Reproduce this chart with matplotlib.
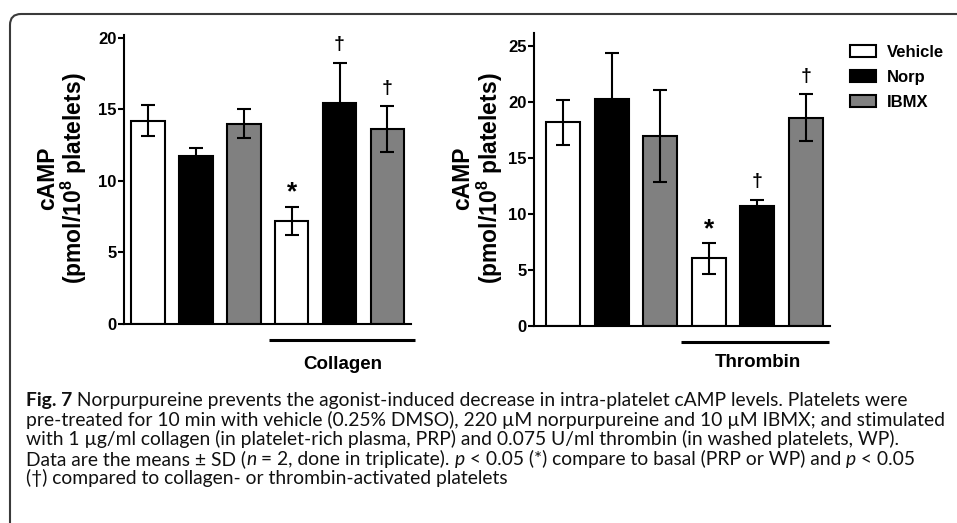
import matplotlib
matplotlib.use("Agg")
import matplotlib.pyplot as plt
import numpy as np
from matplotlib.path import Path
from matplotlib.patches import PathPatch

# ---------------- data ----------------
groups = ["Vehicle", "Norp", "IBMX"]
collagen_means = [14.2, 11.7, 14.0, 7.2, 15.4, 13.6]
collagen_sd = [1.1, 0.6, 1.0, 1.0, 2.85, 1.6]
thrombin_means = [18.15, 20.25, 16.95, 6.0, 10.7, 18.55]
thrombin_sd = [2.0, 4.1, 4.1, 1.35, 0.55, 2.1]
sig_marks = ["", "", "", "*", "\u2020", "\u2020"]
left_yticks = [0, 5, 10, 15, 20]
right_yticks = [0, 5, 10, 15, 20, 25]
agonists = ["Collagen", "Thrombin"]

caption_lines = [
    [("Fig. 7", "bold"), (" Norpurpureine prevents the agonist-induced decrease in intra-platelet cAMP levels. Platelets were", "normal")],
    [("pre-treated for 10 min with vehicle (0.25% DMSO), 220 \u00b5M norpurpureine and 10 \u00b5M IBMX; and stimulated", "normal")],
    [("with 1 \u00b5g/ml collagen (in platelet-rich plasma, PRP) and 0.075 U/ml thrombin (in washed platelets, WP).", "normal")],
    [("Data are the means \u00b1 SD (", "normal"), ("n", "italic"), (" = 2, done in triplicate). ", "normal"), ("p", "italic"),
     (" < 0.05 (*) compare to basal (PRP or WP) and ", "normal"), ("p", "italic"), (" < 0.05", "normal")],
    [("(\u2020) compared to collagen- or thrombin-activated platelets", "normal")],
]

fills = ["white", "black", "#808080"]

plt.rcParams["mathtext.fontset"] = "custom"
plt.rcParams["mathtext.bf"] = "Liberation Sans:bold"
plt.rcParams["mathtext.rm"] = "Liberation Sans:bold"
plt.rcParams["mathtext.it"] = "Liberation Sans:bold"

W, H = 957, 523
fig = plt.figure(figsize=(W / 100, H / 100), dpi=100)
fig.patch.set_facecolor("white")


def fx(px):
    return px / W


def fy(py):
    return 1 - py / H


CH = "Liberation Sans"


def make_axes(left_px, zero_px, ppu, ymax, xmin, spacing, nbars=6):
    width = (nbars - 0.5 - xmin) * spacing
    height = ymax * ppu
    ax = fig.add_axes([fx(left_px), fy(zero_px), width / W, height / H])
    ax.set_xlim(xmin, nbars - 0.5)
    ax.set_ylim(0, ymax)
    return ax


axL = make_axes(124, 324, 14.32, 20.15, -0.5, 47.9)
axR = make_axes(534.3, 325.7, 11.2, 26.1, -0.6, 48.5)


def draw_panel(ax, means, sds, yticks, agonist, line_x, line_y, text_x, text_y):
    x = np.arange(len(means))
    colors = [fills[i % 3] for i in range(len(means))]
    bars = ax.bar(x, means, width=0.7, color=colors, edgecolor="black",
                  linewidth=1.5, zorder=2)
    ax.errorbar(x, means, yerr=sds, fmt="none", ecolor="black",
                elinewidth=1.5, capsize=5, capthick=1.5, zorder=3)
    for xi, m, s, mk in zip(x, means, sds, sig_marks):
        if mk == "*":
            ax.annotate(mk, xy=(xi, m + s), xytext=(0, 10), textcoords="offset points",
                        ha="center", va="center", fontsize=19, fontweight="bold",
                        family=CH, color="black")
        elif mk:
            ax.annotate(mk, xy=(xi, m + s), xytext=(0, 13), textcoords="offset points",
                        ha="center", va="center", fontsize=14, fontweight="bold",
                        family=CH, color="black")
    for side in ["top", "right"]:
        ax.spines[side].set_visible(False)
    for side in ["left", "bottom"]:
        ax.spines[side].set_linewidth(1.5)
    ax.set_xticks([])
    ax.set_yticks(yticks)
    ax.set_yticklabels([str(t) for t in yticks], fontsize=12, fontweight="bold", family=CH)
    ax.tick_params(axis="y", direction="out", length=4, width=1.5, pad=1.5)
    ax.plot(line_x, [line_y, line_y], color="black", lw=2.2, clip_on=False,
            solid_capstyle="butt")
    ax.text(text_x, text_y, agonist, ha="center", va="center",
            fontsize=13.5, fontweight="bold", family=CH)
    return bars


barsL = draw_panel(axL, collagen_means, collagen_sd, left_yticks, agonists[0],
                   [2.53, 5.575], -1.14, 4.07, -2.86)
barsR = draw_panel(axR, thrombin_means, thrombin_sd, right_yticks, agonists[1],
                   [2.42, 5.48], -1.48, 4.0, -3.33)

# y labels
for cx1, cx2, cy in [(47.5, 74, 178), (463, 490, 178)]:
    fig.text(fx(cx1), fy(cy), "cAMP", rotation=90, ha="center", va="center",
             fontsize=16.5, fontweight="bold", family=CH)
    fig.text(fx(cx2), fy(cy), r"(pmol/10$^{\mathbf{8}}$ platelets)", rotation=90,
             ha="center", va="center", fontsize=16.5, fontweight="bold", family=CH)

# legend
leg = axR.legend(barsR[:3], groups, loc="upper left",
                 bbox_to_anchor=(fx(850), fy(45)), bbox_transform=fig.transFigure,
                 frameon=False, borderpad=0, borderaxespad=0, handlelength=1.55,
                 handleheight=0.7, handletextpad=0.65, labelspacing=0.6,
                 prop={"family": CH, "weight": "bold", "size": 12})

# border with rounded top-left corner
bx, by, r = 10, 14, 11
verts = [(fx(bx), fy(H + 2)), (fx(bx), fy(by + r)), (fx(bx), fy(by)), (fx(bx + r), fy(by)),
         (fx(W + 2), fy(by))]
codes = [Path.MOVETO, Path.LINETO, Path.CURVE3, Path.CURVE3, Path.LINETO]
fig.patches.append(PathPatch(Path(verts, codes), transform=fig.transFigure,
                             fill=False, edgecolor="#3a3a3a", linewidth=1.5))

# caption
CAP = "Lato"
cap_x0 = 26
target_w = 945 - 26
base_size = 11
fig.canvas.draw()
renderer = fig.canvas.get_renderer()


def piece_width(s, style, size):
    kw = dict(family=CAP, fontsize=size)
    if style == "bold":
        kw["fontweight"] = "bold"
    elif style == "italic":
        kw["fontstyle"] = "italic"
    t = fig.text(0, 0, s + "|", **kw)
    t2 = fig.text(0, 0, "|", **kw)
    w = t.get_window_extent(renderer).width - t2.get_window_extent(renderer).width
    t.remove()
    t2.remove()
    return w


w2 = sum(piece_width(s, st, base_size) for s, st in caption_lines[1])
cap_size = base_size * target_w / w2

baselines = [406, 425.6, 445.2, 464.8, 484.4]
for line, bl in zip(caption_lines, baselines):
    xcur = cap_x0
    for s, st in line:
        kw = dict(family=CAP, fontsize=cap_size, color="#111111")
        if st == "bold":
            kw["fontweight"] = "bold"
        elif st == "italic":
            kw["fontstyle"] = "italic"
        fig.text(fx(xcur), fy(bl), s, ha="left", va="baseline", **kw)
        xcur += piece_width(s, st, cap_size)

fig.savefig("out.png", dpi=100, facecolor="white")
